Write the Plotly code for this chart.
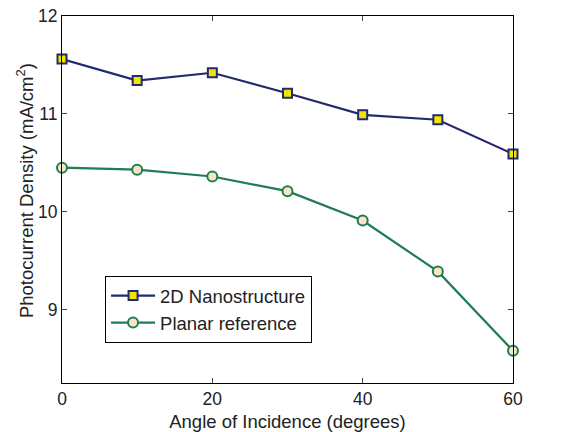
import plotly.graph_objects as go

# Incidence angles (degrees)
angles = [0, 10, 20, 30, 40, 50, 60]

# Photocurrent density (mA/cm^2)
nano_2d = [11.56, 11.34, 11.42, 11.21, 10.99, 10.94, 10.59]
planar = [10.45, 10.43, 10.36, 10.21, 9.91, 9.39, 8.58]

x_ticks = [0, 20, 40, 60]
y_ticks = [9, 10, 11, 12]

font_family = "Liberation Sans, Arial, Helvetica, sans-serif"

fig = go.Figure()
fig.add_trace(go.Scatter(
    x=angles, y=nano_2d, mode="lines+markers", name="2D Nanostructure",
    line=dict(color="#232a6e", width=2.2),
    marker=dict(symbol="square", size=9, color="#f2e600",
                line=dict(color="#232a6e", width=2)),
    cliponaxis=False,
))
fig.add_trace(go.Scatter(
    x=angles, y=planar, mode="lines+markers", name="Planar reference",
    line=dict(color="#1e7d55", width=2.2),
    marker=dict(symbol="circle", size=10, color="#fbe4c6",
                line=dict(color="#1e7d55", width=2)),
    cliponaxis=False,
))

axis_common = dict(
    showline=True, linecolor="black", linewidth=1.2, mirror="ticks",
    ticks="inside", ticklen=5, tickwidth=1, tickcolor="#444",
    showgrid=False, zeroline=False, automargin=False,
    tickfont=dict(size=17.5, color="#222", family=font_family),
)

fig.update_layout(
    width=565, height=432,
    margin=dict(l=62, r=52, t=16, b=49),
    plot_bgcolor="white", paper_bgcolor="white",
    font=dict(family=font_family, color="#222"),
    xaxis=dict(range=[0, 60], tickvals=x_ticks,
               title=dict(text="Angle of Incidence (degrees)", font=dict(size=18.5), standoff=7),
               **axis_common),
    yaxis=dict(range=[8.25, 12], tickvals=y_ticks, **axis_common),
    legend=dict(x=0.095, y=0.292, xanchor="left", yanchor="top",
                bgcolor="white", bordercolor="black", borderwidth=1.2,
                font=dict(size=18.5, color="#222"), itemwidth=44,
                tracegroupgap=0),
    showlegend=True,
)

# Y-axis title placed close to the tick labels
fig.add_annotation(
    text="Photocurrent Density (mA/cm<sup>2</sup>)",
    xref="paper", yref="paper", x=-0.082, y=0.523,
    xanchor="center", yanchor="middle", textangle=-90,
    showarrow=False, font=dict(size=18.5, color="#222", family=font_family),
)

fig.write_html("out.html")
